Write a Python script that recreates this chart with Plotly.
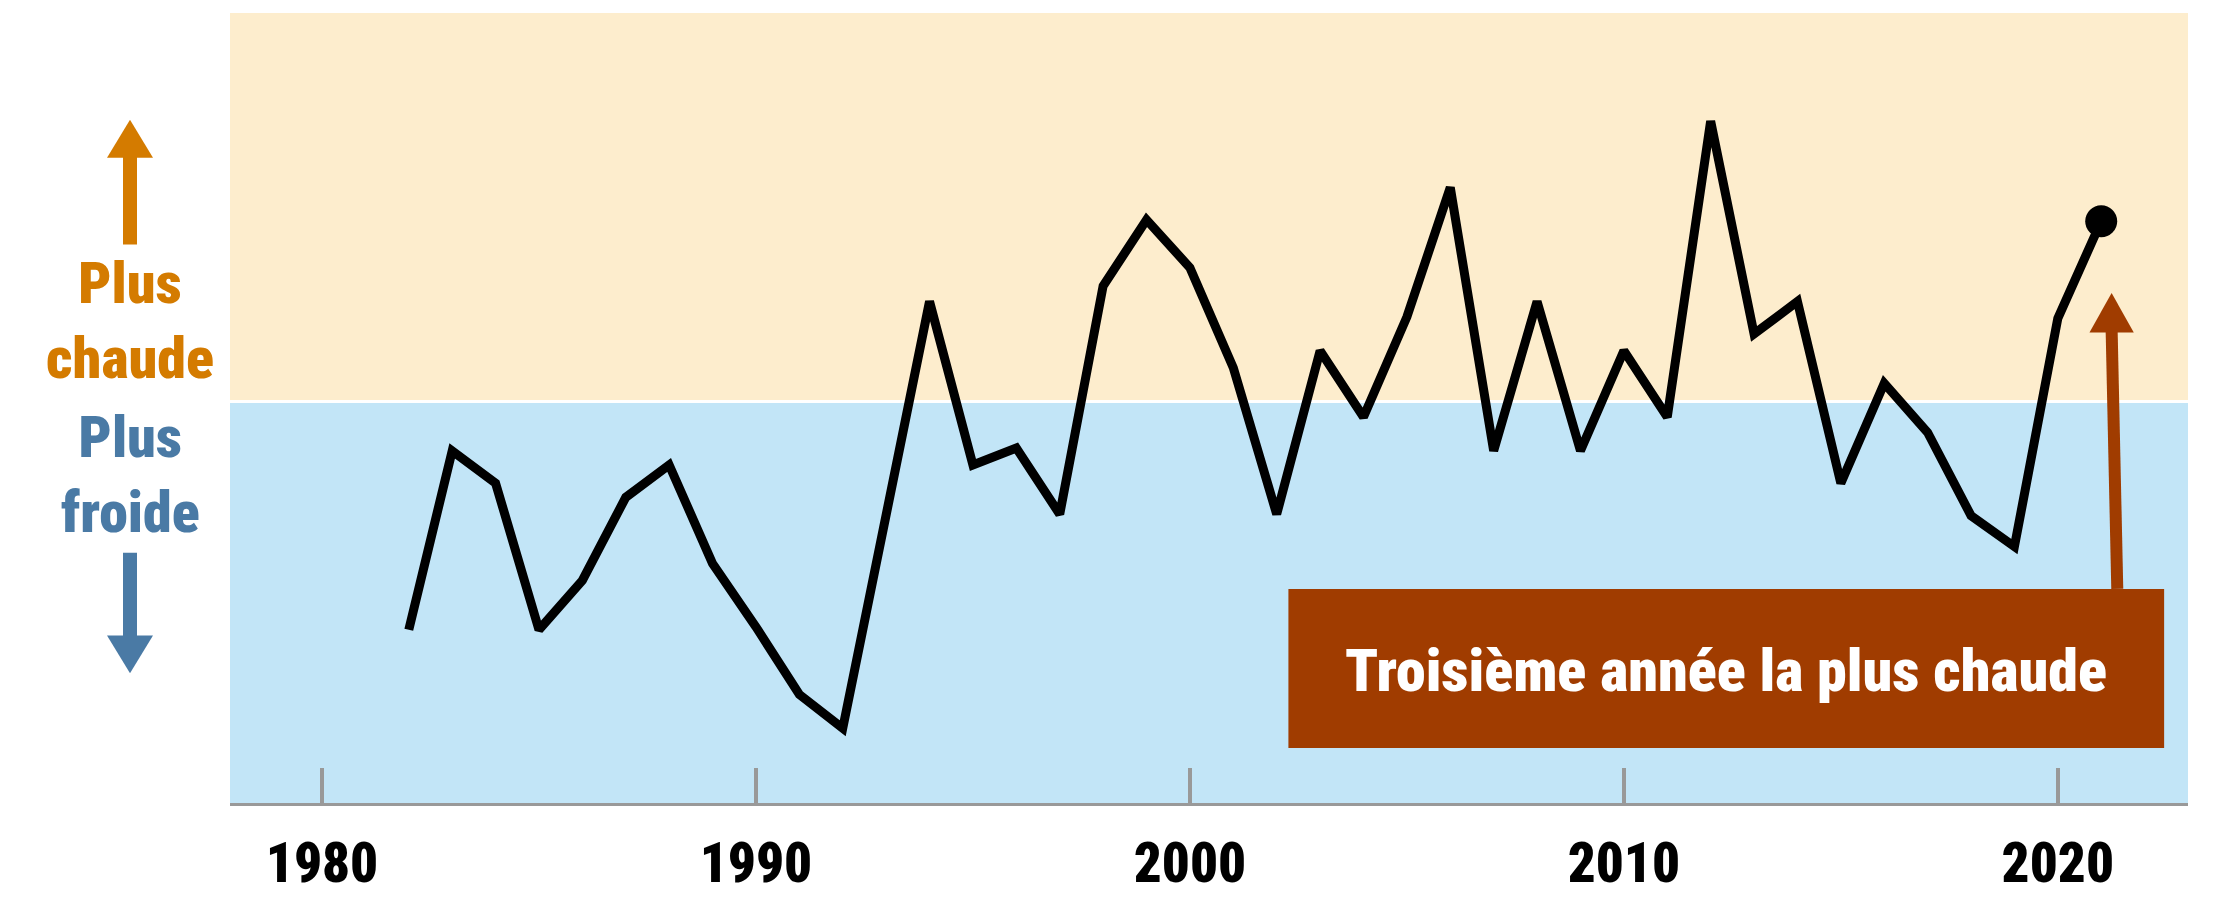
import plotly.graph_objects as go

# ---- data ----
years = list(range(1982, 2022))
anomaly = [-1.62, -0.35, -0.58, -1.62, -1.27, -0.68, -0.45, -1.15, -1.60, -2.08,
           -2.32, -0.80, 0.71, -0.45, -0.33, -0.80, 0.82, 1.29, 0.95, 0.24,
           -0.80, 0.36, -0.11, 0.60, 1.52, -0.35, 0.71, -0.35, 0.36, -0.11,
           1.99, 0.48, 0.71, -0.58, 0.13, -0.22, -0.81, -1.03, 0.59, 1.28]
tick_vals = [1980, 1990, 2000, 2010, 2020]
tick_text = ["1980", "1990", "2000", "2010", "2020"]
warm_label = "Plus<br>chaude"
cool_label = "Plus<br>froide"
callout_text = "Troisième année la plus chaude"

# ---- style ----
FONT = ("Noto Sans ExtraCondensed, Noto Sans Condensed, Roboto Condensed, "
        "Liberation Sans Narrow, Arial Narrow, DejaVu Sans Condensed, sans-serif")
WARM_BG = "#FDEDCD"
COOL_BG = "#C2E5F7"
ORANGE = "#D47B00"
BLUE = "#4A7AA5"
BROWN = "#A03C00"
GREY = "#999999"

OFF = 8  # page body margin
W, H = 2207, 892
ML, MR, MT, MB = 222, 27, 5, 95
PW, PH = W - ML - MR, H - MT - MB
X_RANGE = [1977.88, 2023.0]
Y_RANGE = [-2.85, 2.758]


def px(X):  # window pixel -> paper x
    return (X - OFF - ML) / PW


def py(Y):  # window pixel -> paper y
    return (OFF + H - MB - Y) / PH


fig = go.Figure()

fig.add_trace(go.Scatter(
    x=years, y=anomaly, mode="lines",
    line=dict(color="black", width=9), hoverinfo="skip", showlegend=False,
))
fig.add_trace(go.Scatter(
    x=[years[-1]], y=[anomaly[-1]], mode="markers",
    marker=dict(color="black", size=32), hoverinfo="skip", showlegend=False,
))

shapes = []
shapes.append(dict(type="rect", xref="paper", yref="y", x0=0, x1=1, y0=0, y1=Y_RANGE[1],
                   fillcolor=WARM_BG, line=dict(width=0), layer="below"))
shapes.append(dict(type="rect", xref="paper", yref="y", x0=0, x1=1, y0=Y_RANGE[0], y1=0,
                   fillcolor=COOL_BG, line=dict(width=0), layer="below"))
shapes.append(dict(type="line", xref="paper", yref="y", x0=0, x1=1, y0=0, y1=0,
                   line=dict(color="white", width=3), layer="below"))

cx = 130
shapes.append(dict(type="path", xref="paper", yref="paper",
                   path=f"M {px(cx)},{py(120)} L {px(cx-23)},{py(158)} L {px(cx+23)},{py(158)} Z",
                   fillcolor=ORANGE, line=dict(width=0)))
shapes.append(dict(type="rect", xref="paper", yref="paper",
                   x0=px(cx-7), x1=px(cx+7), y0=py(245), y1=py(157),
                   fillcolor=ORANGE, line=dict(width=0)))
shapes.append(dict(type="rect", xref="paper", yref="paper",
                   x0=px(cx-7), x1=px(cx+7), y0=py(638), y1=py(554),
                   fillcolor=BLUE, line=dict(width=0)))
shapes.append(dict(type="path", xref="paper", yref="paper",
                   path=f"M {px(cx-23)},{py(637)} L {px(cx+23)},{py(637)} L {px(cx)},{py(675)} Z",
                   fillcolor=BLUE, line=dict(width=0)))

box_x0, box_x1, box_y0, box_y1 = 2002.27, 2022.45, -2.46, -1.33
shapes.append(dict(type="rect", xref="x", yref="y", x0=box_x0, x1=box_x1, y0=box_y0, y1=box_y1,
                   fillcolor=BROWN, line=dict(width=0), layer="above"))
ax_bot, ax_top, head_base, tip_y = 2021.37, 2021.24, 0.49, 0.77
shapes.append(dict(type="line", xref="x", yref="y", x0=ax_bot, x1=ax_top, y0=box_y1, y1=head_base + 0.02,
                   line=dict(color=BROWN, width=12)))
shapes.append(dict(type="path", xref="x", yref="y",
                   path=f"M {ax_top},{tip_y} L {ax_top-0.51},{head_base} L {ax_top+0.51},{head_base} Z",
                   fillcolor=BROWN, line=dict(width=0)))

annotations = [
    dict(text=warm_label, xref="paper", yref="paper", x=px(130), y=py(321),
         showarrow=False, xanchor="center", yanchor="middle",
         font=dict(family=FONT, size=58, color=ORANGE, weight=900)),
    dict(text=cool_label, xref="paper", yref="paper", x=px(130), y=py(476),
         showarrow=False, xanchor="center", yanchor="middle",
         font=dict(family=FONT, size=58, color=BLUE, weight=900)),
    dict(text=callout_text, xref="x", yref="y", x=(box_x0 + box_x1) / 2, y=-1.91,
         showarrow=False, xanchor="center", yanchor="middle",
         font=dict(family=FONT, size=60, color="white", weight=900)),
]

fig.update_layout(
    width=W, height=H,
    margin=dict(l=ML, r=MR, t=MT, b=MB, pad=0),
    paper_bgcolor="white", plot_bgcolor="white",
    shapes=shapes, annotations=annotations, showlegend=False,
    xaxis=dict(range=X_RANGE, tickvals=tick_vals, ticktext=tick_text,
               ticks="inside", ticklen=35, tickwidth=4, tickcolor=GREY,
               showline=True, linecolor=GREY, linewidth=3,
               showgrid=False, zeroline=False, ticklabelstandoff=10,
               tickfont=dict(family=FONT, size=55, color="black", weight=900)),
    yaxis=dict(range=Y_RANGE, visible=False, showgrid=False, zeroline=False),
)

fig.write_html("out.html")
